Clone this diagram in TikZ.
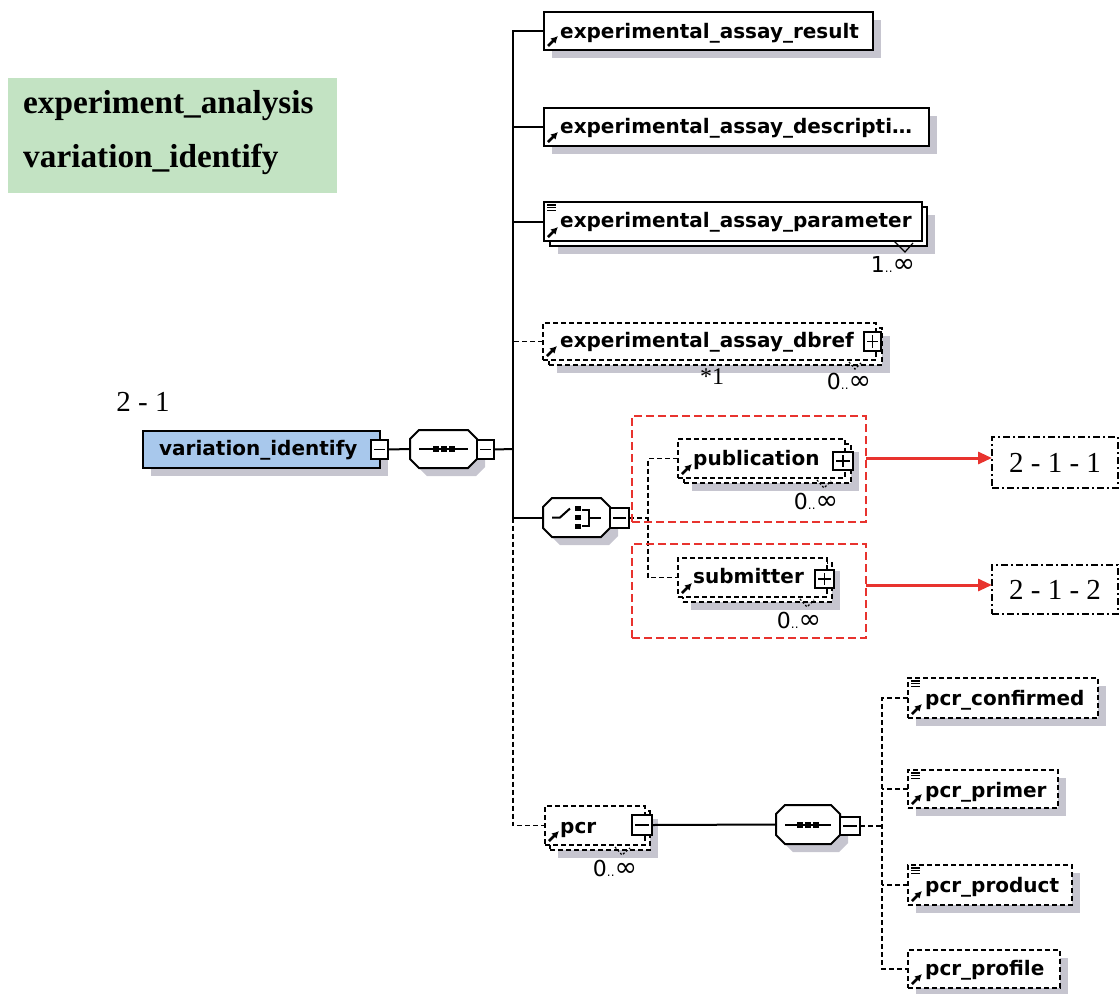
\documentclass[tikz,border=0pt]{standalone}
\usepackage{fontspec}
\setmainfont{Liberation Serif}
\newfontfamily\schemafont{DejaVu Sans}
\usetikzlibrary{arrows.meta}

\definecolor{shadowc}{HTML}{C6C5CF}
\definecolor{choosered}{HTML}{E8332E}
\definecolor{panelgreen}{HTML}{C3E3C3}
\definecolor{rootblue}{HTML}{A8C8EC}

\tikzset{
  elem/.style={draw=black, line width=2.1pt, fill=white, inner sep=0pt, outer sep=0pt},
  optelem/.style={elem, line width=1.9pt, dash pattern=on 5pt off 3pt},
  elemname/.style={font=\schemafont\bfseries\fontsize{20}{20}\selectfont, anchor=base west, inner sep=0pt},
  card/.style={font=\schemafont, inner sep=0pt},
  heading/.style={font=\bfseries\fontsize{33.3}{34}\selectfont, anchor=base west, inner sep=0pt},
  reftext/.style={font=\fontsize{29}{29}\selectfont, inner sep=0pt},
  link/.style={line width=2pt},
  optlink/.style={line width=1.8pt, dash pattern=on 5pt off 3pt},
  redframe/.style={draw=choosered, line width=2.3pt, dash pattern=on 8pt off 4pt, inner sep=0pt, outer sep=0pt},
  refbox/.style={draw=black, line width=2.1pt, dash pattern=on 7pt off 3pt on 2pt off 3pt,
    inner sep=0pt, outer sep=0pt, font=\fontsize{29}{29}\selectfont},
  redarrow/.style={draw=choosered, line width=3pt, -{Triangle[length=14pt,width=12pt]}},
  cardtick/.style={line width=1.2pt}
}

% cardinality text: large bounds with small dots between them
\newcommand\cardtext[2]{{\fontsize{22}{22}\selectfont #1}{\fontsize{12}{12}\selectfont..}{\fontsize{27}{27}\selectfont #2}}
% shadow rectangle offset to the lower right
\newcommand\shadowrect[4]{\fill[shadowc] (#1+8,#2+8) rectangle (#3+8,#4+8);}
% element box: name, style, x1, y1, x2, y2
\newcommand\elembox[6]{\node[#2, minimum width={#5-#3}, minimum height={#6-#4}, anchor=north west] (#1) at (#3,#4) {};}
% reference arrow icon at the lower left of a box
\newcommand\refmark[1]{\draw[-{Latex[length=7pt,width=7.5pt]}, line width=2.6pt] ([shift={(4pt,4pt)}]#1.south west) -- ++(10pt,10pt);}
% list icon at the upper left of a box
\newcommand\listmark[1]{\foreach \k in {0,1,2} \draw[line width=1.2pt] ([shift={(3pt,-3pt-\k*2.8pt)}]#1.north west) -- ++(9pt,0pt);}
% collapse / expand toggles: name, x1, y1, x2, y2
\newcommand\minusbox[5]{\elembox{#1}{elem, line width=1.9pt}{#2}{#3}{#4}{#5}
  \draw[line width=1.9pt] ([xshift=3pt]#1.west) -- ([xshift=-3pt]#1.east);}
\newcommand\plusbox[5]{\minusbox{#1}{#2}{#3}{#4}{#5}
  \draw[line width=1.9pt] ([yshift=-3pt]#1.north) -- ([yshift=3pt]#1.south);}
% compositor octagon with shadow: name, x1, y1, x2, y2
\newcommand\octagonnode[5]{%
  \fill[shadowc] (#2+17,#3+8) -- (#4-1,#3+8) -- (#4+8,#3+17) -- (#4+8,#5-1) -- (#4-1,#5+8)
    -- (#2+17,#5+8) -- (#2+8,#5-1) -- (#2+8,#3+17) -- cycle;
  \draw[line width=2pt, fill=white] (#2+9,#3) -- (#4-9,#3) -- (#4,#3+9) -- (#4,#5-9) -- (#4-9,#5)
    -- (#2+9,#5) -- (#2,#5-9) -- (#2,#3+9) -- cycle;
  \node[minimum width={#4-#2}, minimum height={#5-#3}, anchor=north west, inner sep=0pt, outer sep=0pt] (#1) at (#2,#3) {};}
% sequence symbol inside a compositor
\newcommand\seqsymbol[1]{%
  \draw[line width=2pt] ([xshift=9pt]#1.west) -- ([xshift=-9pt]#1.east);
  \foreach \d in {-8,0,8} \fill ([shift={(\d pt-3pt,-3pt)}]#1.center) rectangle ++(6pt,6pt);}

\begin{document}
\begin{tikzpicture}[x=1pt,y=-1pt]
\useasboundingbox (0,0) rectangle (1120,994);

% ---------- title panel ----------
\node[fill=panelgreen, minimum width=329, minimum height=115, anchor=north west, inner sep=0pt] (panel) at (8,78) {};
\node[heading] (title1) at (23,113) {experiment\_analysis};
\node[heading] (title2) at (23,167) {variation\_identify};

\node[reftext] (rootlabel) at (143,402) {2 - 1};

% ---------- root element ----------
\shadowrect{143}{431}{380}{468}
\elembox{root}{elem, fill=rootblue}{143}{431}{380}{468}
\node[elemname] (rootname) at (159,455) {variation\_identify};
\minusbox{rootm}{371}{440}{388}{459}

\octagonnode{seq}{410}{430}{477}{468}
\seqsymbol{seq}
\minusbox{seqm}{477}{440}{494}{459}
\draw[link] (rootm.east) -- (seq.west);

% ---------- children of the sequence ----------
\shadowrect{544}{12}{873}{50}
\elembox{result}{elem}{544}{12}{873}{50}
\refmark{result}
\node[elemname] (resultname) at (560,38) {experimental\_assay\_result};

\shadowrect{544}{108}{929}{146}
\elembox{descr}{elem}{544}{108}{929}{146}
\refmark{descr}
\node[elemname] (descrname) at (560,133) {experimental\_assay\_descripti…};

\shadowrect{550}{207}{927}{246}
\elembox{paramback}{elem}{550}{207}{927}{246}
\elembox{param}{elem}{544}{202}{922}{241}
\refmark{param}
\listmark{param}
\node[elemname] (paramname) at (560,227) {experimental\_assay\_parameter};
\draw[cardtick] (894,241) -- (905,252) -- (913,243);
\node[card] (paramcard) at (893,264) {\cardtext{1}{∞}};

\shadowrect{549}{328}{882}{365}
\elembox{dbrefback}{optelem}{549}{328}{882}{365}
\elembox{dbref}{optelem}{543}{323}{876}{360}
\refmark{dbref}
\node[elemname] (dbrefname) at (560,347) {experimental\_assay\_dbref};
\plusbox{dbrefp}{864}{332}{881}{351}
\draw[cardtick, dash pattern=on 2pt off 2pt] (849,362) -- (855,369) -- (861,363);
\node[reftext, font=\fontsize{24}{24}\selectfont] (dbrefnote) at (712,377) {*1};
\node[card] (dbrefcard) at (849,381) {\cardtext{0}{∞}};

% choice compositor
\octagonnode{choice}{543}{498}{610}{537}
\draw[line width=2pt] ([xshift=9pt]choice.west) -- ++(8pt,0pt) -- ++(10pt,9pt);
\foreach \d in {-9,0,9} \fill ([shift={(-1.5pt,\d pt-2.8pt)}]choice.center) rectangle ++(5.6pt,5.6pt);
\draw[line width=2pt] ([shift={(5pt,8pt)}]choice.center) -- ++(7pt,0pt) -- ++(0pt,-16pt) -- ++(-7pt,0pt);
\draw[line width=2pt] ([shift={(12pt,0pt)}]choice.center) -- ++(12pt,0pt);
\minusbox{choicem}{610}{508}{629}{528}

\shadowrect{684}{444}{851}{483}
\elembox{pubback}{optelem}{684}{444}{851}{483}
\elembox{pub}{optelem}{678}{439}{845}{478}
\refmark{pub}
\node[elemname] (pubname) at (693,465) {publication};
\plusbox{pubp}{833}{452}{853}{470}
\draw[cardtick, dash pattern=on 2pt off 2pt] (817,480) -- (824,488) -- (831,481);
\node[card] (pubcard) at (816,501) {\cardtext{0}{∞}};

\shadowrect{683}{563}{832}{602}
\elembox{subback}{optelem}{683}{563}{832}{602}
\elembox{sub}{optelem}{678}{558}{827}{597}
\refmark{sub}
\node[elemname] (subname) at (693,583) {submitter};
\plusbox{subp}{815}{570}{834}{588}
\draw[cardtick, dash pattern=on 2pt off 2pt] (800,599) -- (807,607) -- (814,600);
\node[card] (subcard) at (799,620) {\cardtext{0}{∞}};

% pcr element and its own sequence
\shadowrect{550}{811}{650}{850}
\elembox{pcrback}{optelem}{550}{811}{650}{850}
\elembox{pcr}{optelem}{545}{806}{645}{845}
\refmark{pcr}
\node[elemname] (pcrname) at (560,833) {pcr};
\minusbox{pcrm}{632}{815}{652}{835}
\draw[cardtick, dash pattern=on 2pt off 2pt] (615,847) -- (622,855) -- (630,848);
\node[card] (pcrcard) at (615,868) {\cardtext{0}{∞}};

\octagonnode{pcrseq}{776}{805}{840}{844}
\seqsymbol{pcrseq}
\minusbox{pcrseqm}{840}{817}{860}{835}
\draw[link] (pcrm.east) -- (pcrseq.west);

\shadowrect{908}{678}{1098}{718}
\elembox{pconf}{optelem}{908}{678}{1098}{718}
\refmark{pconf}
\listmark{pconf}
\node[elemname] (pconfname) at (925,705) {pcr\_confirmed};

\shadowrect{908}{770}{1058}{808}
\elembox{pprim}{optelem}{908}{770}{1058}{808}
\refmark{pprim}
\listmark{pprim}
\node[elemname] (pprimname) at (925,797) {pcr\_primer};

\shadowrect{908}{865}{1072}{905}
\elembox{pprod}{optelem}{908}{865}{1072}{905}
\refmark{pprod}
\listmark{pprod}
\node[elemname] (pprodname) at (925,892) {pcr\_product};

\shadowrect{908}{950}{1060}{988}
\elembox{pprof}{optelem}{908}{950}{1060}{988}
\refmark{pprof}
\node[elemname] (pprofname) at (925,975) {pcr\_profile};

% ---------- connectors ----------
\coordinate (trunk) at (513,449);
\draw[link] (seqm.east) -- (trunk);
\draw[link] (result.west) -- (result.west -| trunk) -- (choice.west -| trunk) -- (choice.west);
\draw[link] (descr.west) -- (descr.west -| trunk);
\draw[link] (param.west) -- (param.west -| trunk);
\draw[optlink] (dbref.west) -- (dbref.west -| trunk);
\draw[optlink] (choice.west -| trunk) |- (pcr.west);

\coordinate (choicejoint) at (648,518);
\draw[optlink] (choicem.east) -- (choicejoint);
\draw[optlink] (pub.west) -| (choicejoint) |- (sub.west);

\coordinate (pcrjoint) at (882,826);
\draw[optlink] (pcrseqm.east) -- (pcrjoint);
\draw[optlink] (pconf.west) -- (pconf.west -| pcrjoint) -- (pprof.west -| pcrjoint) -- (pprof.west);
\draw[optlink] (pprim.west) -- (pprim.west -| pcrjoint);
\draw[optlink] (pprod.west) -- (pprod.west -| pcrjoint);

% ---------- highlighted groups and their references ----------
\elembox{grp1}{redframe}{632}{416}{866}{522}
\elembox{grp2}{redframe}{632}{544}{866}{638}
\node[refbox, minimum width=126, minimum height=51, anchor=north west] (ref1) at (992,437) {2 - 1 - 1};
\node[refbox, minimum width=126, minimum height=49, anchor=north west] (ref2) at (992,565) {2 - 1 - 2};
\draw[redarrow] ([yshift=4.5pt]ref1.west -| grp1.east) -- ([yshift=4.5pt]ref1.west);
\draw[redarrow] ([yshift=4.5pt]ref2.west -| grp2.east) -- ([yshift=4.5pt]ref2.west);

\end{tikzpicture}
\end{document}
